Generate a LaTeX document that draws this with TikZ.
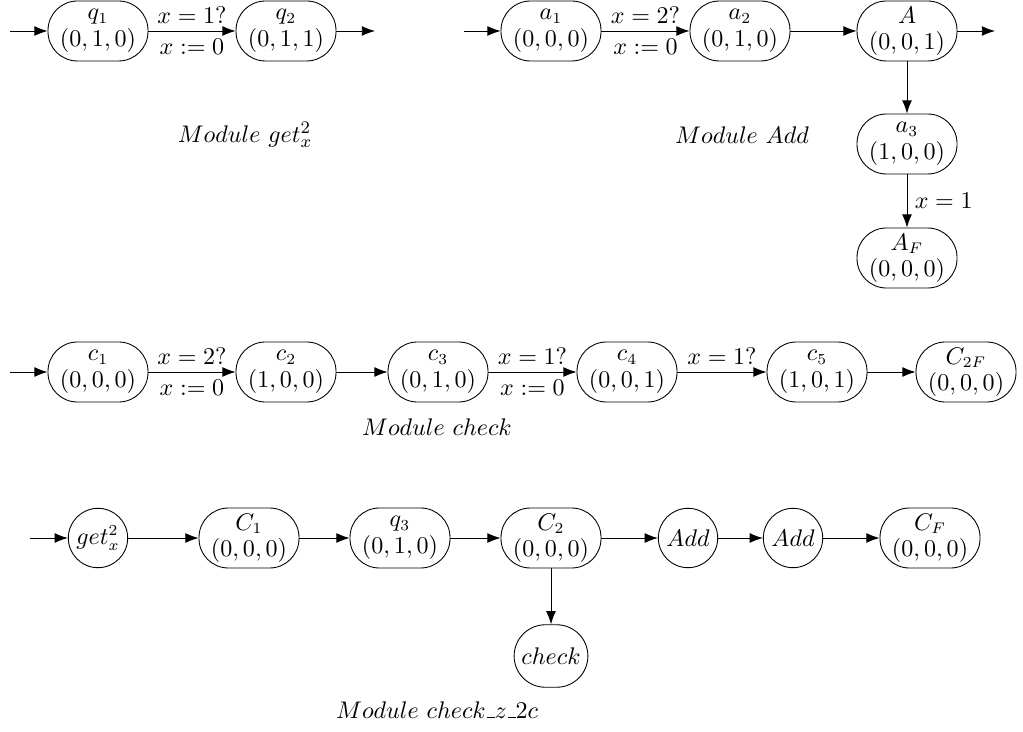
\documentclass[tikz,border=0pt]{standalone}
\usepackage{tikz}
\usetikzlibrary{arrows.meta}
\usepackage{amsmath}
\newcommand{\usc}{\kern.06em\vbox{\hrule width.3em height.8pt}}

\begin{document}
\begin{tikzpicture}[
          font=\fontsize{10.5}{12}\selectfont,
          state/.style={draw, rounded corners=0.47cm, minimum width=1.6cm,
                        minimum height=0.96cm, inner sep=1pt, align=center},
          circ/.style={draw, circle, minimum size=0.95cm, inner sep=0pt},
          arr/.style={-{Latex[length=6pt,width=4.5pt]}},
          lab/.style={font=\fontsize{11}{13}\selectfont}
        ]
        \useasboundingbox (0,0) rectangle (16.368,11.696);

        % Module get_x^2
        \coordinate (gin) at (0.16, 11.2);
        \coordinate (gout) at (6.0, 11.2);
        \node[state] (q1) at (1.568, 11.2) {$q_1$\\$(0,1,0)$};
        \node[state] (q2) at (4.576, 11.2) {$q_2$\\$(0,1,1)$};
        \node[lab] (mget) at (3.92, 9.536) {$Module\ get_x^2$};
        \draw[arr] (gin)--(q1);
        \draw[arr] (q1)--(q2) node[midway,above]{$x=1?$} node[midway,below]{$x:=0$};
        \draw[arr] (q2)--(gout);

        % Module Add
        \coordinate (ain) at (7.424, 11.2);
        \coordinate (aout) at (15.92, 11.2);
        \node[state] (a1) at (8.816, 11.2)  {$a_1$\\$(0,0,0)$};
        \node[state] (a2) at (11.84, 11.2)  {$a_2$\\$(0,1,0)$};
        \node[state] (A)  at (14.512, 11.2) {$A$\\$(0,0,1)$};
        \node[state] (a3) at (14.512, 9.392) {$a_3$\\$(1,0,0)$};
        \node[state] (AF) at (14.512, 7.568) {$A_F$\\$(0,0,0)$};
        \node[lab] (madd) at (11.872, 9.536) {$Module\ Add$};
        \draw[arr] (ain)--(a1);
        \draw[arr] (a1)--(a2) node[midway,above]{$x=2?$} node[midway,below]{$x:=0$};
        \draw[arr] (a2)--(A);
        \draw[arr] (A)--(aout);
        \draw[arr] (A)--(a3);
        \draw[arr] (a3)--(AF) node[midway,right]{$x=1$};

        % Module check
        \coordinate (cin) at (0.16, 5.744);
        \node[state] (c1)  at (1.568, 5.744)  {$c_1$\\$(0,0,0)$};
        \node[state] (c2)  at (4.576, 5.744)  {$c_2$\\$(1,0,0)$};
        \node[state] (c3)  at (7.008, 5.744)  {$c_3$\\$(0,1,0)$};
        \node[state] (c4)  at (10.032, 5.744) {$c_4$\\$(0,0,1)$};
        \node[state] (c5)  at (13.072, 5.744) {$c_5$\\$(1,0,1)$};
        \node[state] (C2F) at (15.456, 5.744) {$C_{2F}$\\$(0,0,0)$};
        \node[lab] (mcheck) at (6.992, 4.864) {$Module\ check$};
        \draw[arr] (cin)--(c1);
        \draw[arr] (c1)--(c2) node[midway,above]{$x=2?$} node[midway,below]{$x:=0$};
        \draw[arr] (c2)--(c3);
        \draw[arr] (c3)--(c4) node[midway,above]{$x=1?$} node[midway,below]{$x:=0$};
        \draw[arr] (c4)--(c5) node[midway,above]{$x=1?$};
        \draw[arr] (c5)--(C2F);

        % Module check_z_2c
        \coordinate (zin) at (0.48, 3.088);
        \node[circ]  (get)  at (1.568, 3.088)  {$get_x^2$};
        \node[state] (C1)   at (3.984, 3.088)  {$C_1$\\$(0,0,0)$};
        \node[state] (q3)   at (6.4, 3.088)    {$q_3$\\$(0,1,0)$};
        \node[state] (C2)   at (8.816, 3.088)  {$C_2$\\$(0,0,0)$};
        \node[circ]  (add1) at (11.008, 3.088) {$Add$};
        \node[circ]  (add2) at (12.688, 3.088) {$Add$};
        \node[state] (CF)   at (14.88, 3.088)  {$C_F$\\$(0,0,0)$};
        \node[state, minimum width=1.18cm, minimum height=1.0cm,
              rounded corners=0.5cm] (chk) at (8.816, 1.2) {$check$};
        \node[lab] (mz) at (6.992, 0.336) {$Module\ check\usc z\usc 2c$};
        \draw[arr] (zin)--(get);
        \draw[arr] (get)--(C1);
        \draw[arr] (C1)--(q3);
        \draw[arr] (q3)--(C2);
        \draw[arr] (C2)--(add1);
        \draw[arr] (add1)--(add2);
        \draw[arr] (add2)--(CF);
        \draw[arr] (C2)--(chk);
      \end{tikzpicture}
\end{document}
